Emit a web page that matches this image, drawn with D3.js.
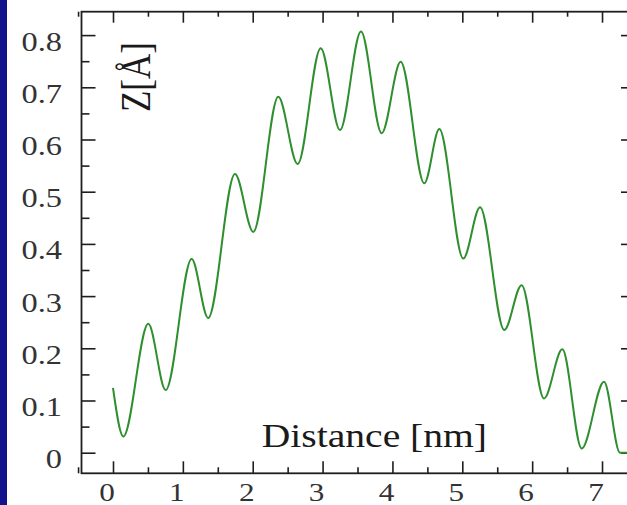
<!DOCTYPE html>
<html>
<head>
<meta charset="utf-8">
<script src="https://cdn.jsdelivr.net/npm/d3@7"></script>
<style>
  html, body { margin: 0; padding: 0; background: #ffffff; }
  svg { display: block; }
</style>
</head>
<body>
<svg id="chart" width="627" height="505"></svg>
<script>
// Height profile along the scan line: turning points of the corrugated trace
const distanceNm = [0.0, 0.148, 0.505, 0.754, 1.126, 1.362, 1.746, 2.008, 2.366, 2.643,
  2.973, 3.249, 3.55, 3.846, 4.118, 4.456, 4.671, 5.014, 5.254, 5.601,
  5.849, 6.17, 6.432, 6.709, 7.029, 7.257, 7.36];
const heightA = [0.124, 0.031, 0.247, 0.12, 0.371, 0.258, 0.534, 0.423, 0.682, 0.553,
  0.775, 0.618, 0.807, 0.612, 0.749, 0.516, 0.62, 0.372, 0.47, 0.235,
  0.321, 0.104, 0.198, 0.008, 0.136, 0.0, 0.0];

const xTickValues = [0, 1, 2, 3, 4, 5, 6, 7];
const xMinorValues = [-0.5, 0.5, 1.5, 2.5, 3.5, 4.5, 5.5, 6.5, 7.5];
const yTickValues = [0, 0.1, 0.2, 0.3, 0.4, 0.5, 0.6, 0.7, 0.8];
const yMinorValues = [0.05, 0.15, 0.25, 0.35, 0.45, 0.55, 0.65, 0.75];
const xTitle = "Distance [nm]";
const yTitle = "Z[Å]";

const svg = d3.select("#chart");
const W = 627, H = 505;
const frame = { left: 81.5, right: 635, top: 11.7, bottom: 473.3 };

// scales: x=0 at 113 px, 69.86 px per nm; z=0 at 452.7 px, 522 px per Å
const x = d3.scaleLinear()
  .domain([(frame.left - 113) / 69.86, (frame.right - 113) / 69.86])
  .range([frame.left, frame.right]);
const y = d3.scaleLinear()
  .domain([(452.7 - frame.bottom) / 522, (452.7 - frame.top) / 522])
  .range([frame.bottom, frame.top]);

// white page with the navy slide edge on the left
svg.append("rect").attr("width", W).attr("height", H).attr("fill", "#ffffff");
svg.append("rect").attr("x", 0).attr("y", 0).attr("width", 7).attr("height", H).attr("fill", "#12128c");

const axisColor = "#1e1e1e";
function styleAxis(g) {
  g.select(".domain").remove();
  g.selectAll("line").attr("stroke", axisColor).attr("stroke-width", 1.6);
  g.selectAll("text").remove();
}

// inward-pointing ticks on all four sides
svg.append("g").attr("transform", `translate(0,${frame.bottom})`)
  .call(d3.axisBottom(x).tickValues(xTickValues).tickSizeInner(-12).tickSizeOuter(0)).call(styleAxis);
svg.append("g").attr("transform", `translate(0,${frame.bottom})`)
  .call(d3.axisBottom(x).tickValues(xMinorValues).tickSizeInner(-6).tickSizeOuter(0)).call(styleAxis);
svg.append("g").attr("transform", `translate(0,${frame.top})`)
  .call(d3.axisTop(x).tickValues(xTickValues).tickSizeInner(-11).tickSizeOuter(0)).call(styleAxis);
svg.append("g").attr("transform", `translate(0,${frame.top})`)
  .call(d3.axisTop(x).tickValues(xMinorValues).tickSizeInner(-5).tickSizeOuter(0)).call(styleAxis);
svg.append("g").attr("transform", `translate(${frame.left},0)`)
  .call(d3.axisLeft(y).tickValues(yTickValues).tickSizeInner(-14).tickSizeOuter(0)).call(styleAxis);
svg.append("g").attr("transform", `translate(${frame.left},0)`)
  .call(d3.axisLeft(y).tickValues(yMinorValues).tickSizeInner(-8).tickSizeOuter(0)).call(styleAxis);
svg.append("g").attr("transform", `translate(${frame.right},0)`)
  .call(d3.axisRight(y).tickValues(yTickValues).tickSizeInner(-14).tickSizeOuter(0)).call(styleAxis);
svg.append("g").attr("transform", `translate(${frame.right},0)`)
  .call(d3.axisRight(y).tickValues(yMinorValues).tickSizeInner(-8).tickSizeOuter(0)).call(styleAxis);

// frame
svg.append("rect")
  .attr("x", frame.left).attr("y", frame.top)
  .attr("width", frame.right - frame.left).attr("height", frame.bottom - frame.top)
  .attr("fill", "none").attr("stroke", axisColor).attr("stroke-width", 1.8);

// profile trace
const line = d3.line()
  .x((d, i) => x(distanceNm[i]))
  .y(d => y(d))
  .curve(d3.curveMonotoneX);
svg.append("path")
  .datum(heightA)
  .attr("d", line)
  .attr("fill", "none")
  .attr("stroke", "#2f8f2f")
  .attr("stroke-width", 2)
  .attr("stroke-linejoin", "round");

// tick labels (serif, slightly widened)
const font = "'Liberation Serif', 'Times New Roman', serif";
const labelColor = "#333333";
svg.append("g").selectAll("text")
  .data(yTickValues).join("text")
  .attr("transform", d => `translate(62,${y(d) + 15.5}) scale(1.2,1)`)
  .attr("text-anchor", "end")
  .attr("font-family", font).attr("font-size", 27).attr("fill", labelColor)
  .text(d => d === 0 ? "0" : d3.format(".1f")(d));
svg.append("g").selectAll("text")
  .data(xTickValues).join("text")
  .attr("transform", d => `translate(${x(d) - 6},500.5) scale(1.2,1)`)
  .attr("text-anchor", "middle")
  .attr("font-family", font).attr("font-size", 26).attr("fill", labelColor)
  .text(d => d);

// axis titles, placed inside the frame
svg.append("text")
  .attr("transform", "translate(261.7,446.7) scale(1.2,1)")
  .attr("font-family", font).attr("font-size", 33).attr("fill", "#1a1a1a")
  .text(xTitle);
svg.append("text")
  .attr("transform", "translate(150,112) scale(1.2,1) rotate(-90)")
  .attr("font-family", font).attr("font-size", 35).attr("fill", "#1a1a1a")
  .text(yTitle);
</script>
</body>
</html>
